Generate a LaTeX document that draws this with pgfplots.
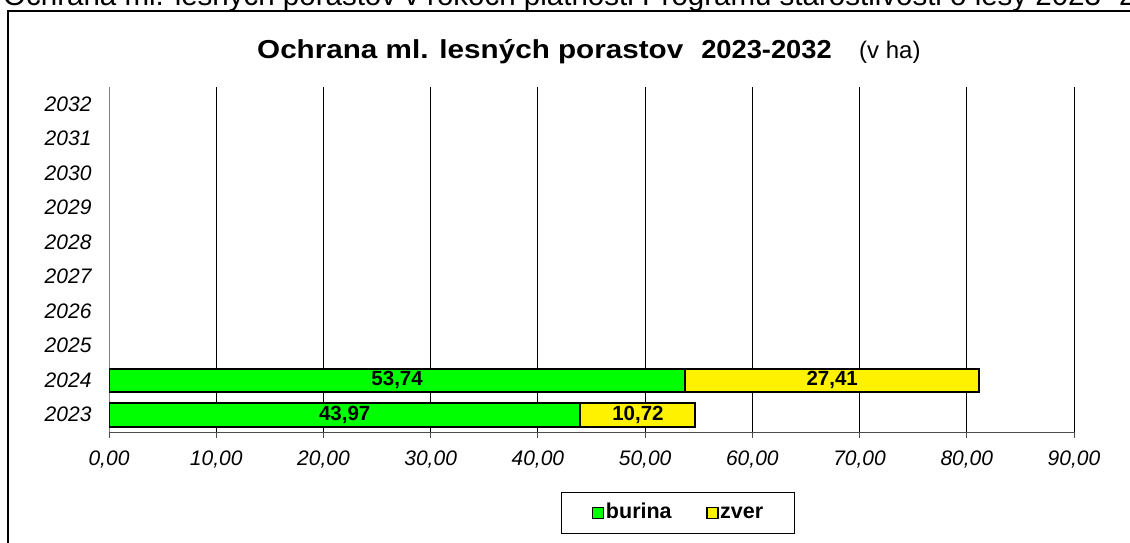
\documentclass[border=0pt]{standalone}
\usepackage{fontspec}
\setmainfont{Liberation Sans}
\usepackage{graphicx}
\usepackage{pgfplots}
\pgfplotsset{compat=1.18}

\newcommand{\fs}[1]{\fontsize{#1}{#1}\selectfont}

\begin{document}
\begin{tikzpicture}
% cut-off heading above the chart frame
\node[anchor=base west, inner sep=0pt] at (3pt,-5pt)
  {\fs{29.5}Ochrana ml. lesných porastov v rokoch platnosti Programu starostlivosti o lesy 2023- 2032};
% chart frame (continues past the right and bottom edges)
\draw[line width=2pt] (8pt,-620pt) -- (8pt,-11pt) -- (1200pt,-11pt);

\begin{axis}[
    at={(109pt,-432pt)}, anchor=south west,
    scale only axis, width=965pt, height=345pt,
    xbar stacked, bar width=23.5pt,
    xmin=0, xmax=90, ymin=-0.5, ymax=9.5,
    axis x line=bottom, axis y line=left,
    axis line style={-},
    y axis line style={gray, line width=1pt},
    x axis line style={black!70, line width=1pt},
    xtick={0,10,...,90},
    ytick={0,...,9},
    yticklabels={2023,2024,2025,2026,2027,2028,2029,2030,2031,2032},
    minor ytick={-0.5,0.5,...,9.5},
    major tick length=6pt,
    ytick style={draw=none},
    minor tick length=6pt,
    minor tick style={gray, line width=1pt},
    xtick style={black!70, line width=1pt},
    tick align=outside,
    xmajorgrids, grid style={black, line width=0.8pt},
    /pgf/number format/assume math mode=true,
    ticklabel style={font=\fs{21}\itshape},
    xticklabel style={/pgf/number format/.cd, fixed, fixed zerofill, precision=2, use comma},
    xticklabel shift=9pt,
    yticklabel style={xshift=-8pt},
    point meta=explicit,
    nodes near coords={\pgfmathprintnumber[fixed,fixed zerofill,precision=2,use comma]{\pgfplotspointmeta}},
    every node near coord/.style={anchor=center, font=\fs{20.5}\bfseries},
    legend columns=2,
    legend style={at={(0.590,-0.235)}, anchor=center, draw=black, line width=1pt,
        font=\fs{21.5}\bfseries, inner xsep=30pt, inner ysep=9pt,
        nodes={text height=15pt, text depth=4pt, inner xsep=1.5pt},
        /tikz/every even column/.append style={column sep=33pt}},
    legend image code/.code={\draw[#1, line width=1.5pt] (0pt,-5.5pt) rectangle (11pt,5.5pt);},
]
\addplot[fill=green, draw=black, line width=2pt] coordinates {(43.97,0) [43.97] (53.74,1) [53.74]};
\addplot[fill=yellow, draw=black, line width=2pt] coordinates {(10.72,0) [10.72] (27.41,1) [27.41]};
\legend{burina,zver}
\end{axis}

% chart title
\node[anchor=base west, inner sep=0pt] at (257pt,-58pt)
  {\scalebox{1.14}[1]{\fs{26}\bfseries Ochrana ml. lesných porastov}};
\node[anchor=base east, inner sep=0pt] at (832pt,-58pt)
  {\scalebox{1.05}[1]{\fs{26}\bfseries 2023-2032}};
\node[anchor=base west, inner sep=0pt] at (859pt,-58pt) {\fs{24}(v ha)};

\pgfresetboundingbox
\useasboundingbox (0pt,0pt) rectangle (1130pt,-542pt);
\end{tikzpicture}
\end{document}
